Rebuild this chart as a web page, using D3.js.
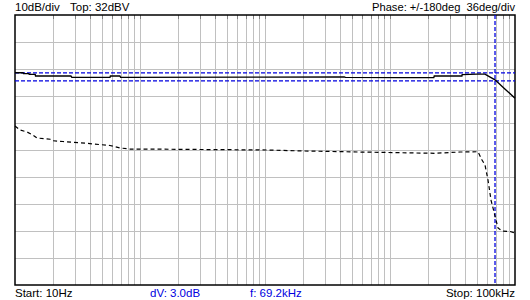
<!DOCTYPE html>
<html><head><meta charset="utf-8">
<script src="https://cdn.jsdelivr.net/npm/d3@7"></script>
<style>body{margin:0;background:#fff}svg{display:block}text{font-family:"Liberation Sans",Arial,sans-serif;font-size:11.5px;white-space:pre}</style>
</head><body><svg id="c" width="530" height="300"></svg>
<script>
// Magnitude trace (dBV) — solid line
const magFreq = [10, 10.6, 11.6, 11.7, 12.9, 13, 14.5, 14.6, 28, 28.5, 57.5, 58, 69, 70, 1000, 4300, 4400, 12000, 22400, 22600, 37600, 37800, 49600, 57500, 69200, 83000, 100000];
const magDb   = [10.6, 10.6, 10.6, 10.3, 10.3, 10.0, 10.0, 9.4, 9.4, 8.9, 8.9, 9.4, 9.4, 8.9, 9.0, 9.1, 8.9, 8.8, 8.8, 9.4, 9.4, 9.9, 10.1, 10.1, 8.0, 4.6, 1.2];
// Phase trace (deg) — dashed line
const phFreq = [10, 10.96, 12.5, 13.9, 15, 19.1, 19.8, 24.2, 33.1, 57.5, 69.2, 83.2, 100, 209, 1038, 2014, 2754, 5754, 12020, 22910, 36310, 50580, 54450, 57540, 60810, 64270, 66680, 70470, 73110, 78700, 91200, 100000];
const phDeg  = [32, 26.7, 24, 20, 16, 14.3, 12.4, 11.3, 9.7, 6, 2.7, 1.3, 1.3, 0.9, 0, -1.3, -1.7, -2.7, -3.6, -4.4, -2.7, -2.3, -13.3, -20, -40, -66.7, -77.3, -93.3, -104, -108, -108.7, -110.7];
// Cursors
const cursorFreq = 69200;
const cursorDb = [10.6, 7.6];
// Labels
const topLeft = ["10dB/div", "Top: 32dBV"];
const topRight = "Phase: +/-180deg  36deg/div";
const bottomLabels = ["Start: 10Hz", "dV: 3.0dB", "f: 69.2kHz", "Stop: 100kHz"];

const svg = d3.select("#c");
const L = 15, R = 515, T = 15, B = 285;
const x = d3.scaleLog().domain([10, 100000]).range([L, R]);
const yDb = d3.scaleLinear().domain([-68, 32]).range([B, T]);
const yPh = d3.scaleLinear().domain([-180, 180]).range([B, T]);

// grid
const vTicks = [];
for (let d = 10; d < 100000; d *= 10) for (let m = 1; m <= 9; m++) vTicks.push(d * m);
const g = svg.append("g");
g.selectAll("line.v").data(vTicks.filter(v => v > 10)).join("line")
  .attr("x1", d => Math.round(x(d)) + 0.5).attr("x2", d => Math.round(x(d)) + 0.5)
  .attr("y1", T).attr("y2", B).attr("stroke", "#c0c0c0").attr("stroke-width", 1);
const hTicks = d3.range(22, -68, -10);
g.selectAll("line.h").data(hTicks).join("line")
  .attr("x1", L).attr("x2", R)
  .attr("y1", d => Math.round(yDb(d)) + 0.5).attr("y2", d => Math.round(yDb(d)) + 0.5)
  .attr("stroke", "#c0c0c0").attr("stroke-width", 1);
g.selectAll("line.t").data(vTicks.filter(v => v > 10)).join("line")
  .attr("x1", d => Math.round(x(d)) + 0.5).attr("x2", d => Math.round(x(d)) + 0.5)
  .attr("y1", T).attr("y2", T + 4).attr("stroke", "#808080").attr("stroke-width", 1);

// frame
svg.append("rect").attr("x", L).attr("y", T).attr("width", R - L).attr("height", B - T)
  .attr("fill", "none").attr("stroke", "#000").attr("stroke-width", 1.5);

// cursors
svg.selectAll("line.cy").data(cursorDb).join("line")
  .attr("x1", L).attr("x2", R).attr("y1", d => yDb(d)).attr("y2", d => yDb(d))
  .attr("stroke", "#0000e0").attr("stroke-width", 1.3).attr("stroke-dasharray", "4,2");
svg.append("line").attr("x1", x(cursorFreq)).attr("x2", x(cursorFreq)).attr("y1", T).attr("y2", B)
  .attr("stroke", "#0000e0").attr("stroke-width", 1.3).attr("stroke-dasharray", "4,2");

// traces
const magLine = d3.line().x(d => x(d[0])).y(d => yDb(d[1]));
svg.append("path").datum(d3.zip(magFreq, magDb)).attr("d", magLine)
  .attr("fill", "none").attr("stroke", "#000").attr("stroke-width", 1.4);
const phLine = d3.line().x(d => x(d[0])).y(d => yPh(d[1]));
svg.append("path").datum(d3.zip(phFreq, phDeg)).attr("d", phLine)
  .attr("fill", "none").attr("stroke", "#000").attr("stroke-width", 1.2).attr("stroke-dasharray", "4,3");

// labels
svg.append("text").attr("x", 15).attr("y", 11).text(topLeft[0]);
svg.append("text").attr("x", 70).attr("y", 11).text(topLeft[1]);
svg.append("text").attr("x", 515).attr("y", 11).attr("text-anchor", "end")
  .attr("textLength", 143).attr("lengthAdjust", "spacingAndGlyphs").text(topRight);
svg.append("text").attr("x", 15).attr("y", 297).text(bottomLabels[0]);
svg.append("text").attr("x", 150).attr("y", 297).attr("fill", "#0000e0").text(bottomLabels[1]);
svg.append("text").attr("x", 250).attr("y", 297).attr("fill", "#0000e0").text(bottomLabels[2]);
svg.append("text").attr("x", 515).attr("y", 297).attr("text-anchor", "end").text(bottomLabels[3]);
</script></body></html>
